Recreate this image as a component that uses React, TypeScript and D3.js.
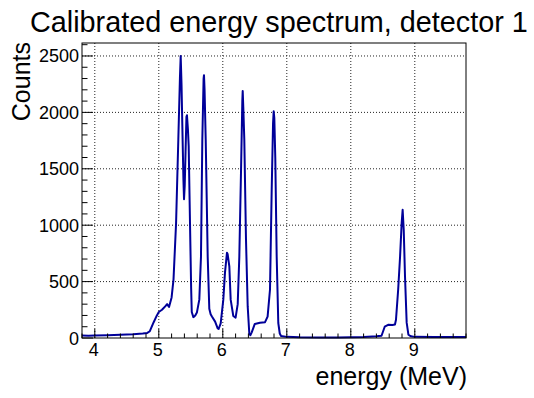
import React from "react";
import * as d3 from "d3";

const title = "Calibrated energy spectrum, detector 1";
const xTitle = "energy (MeV)";
const yTitle = "Counts";

const energy = [
  3.80, 3.90, 4.00, 4.20, 4.40, 4.60, 4.75, 4.82, 4.86, 4.92, 4.97, 5.00, 5.05, 5.10, 5.13, 5.16, 5.20, 5.23,
  5.27, 5.305, 5.33, 5.342, 5.355, 5.367, 5.385, 5.394, 5.405, 5.418, 5.432, 5.44, 5.455, 5.467, 5.4875,
  5.505, 5.515, 5.54, 5.57, 5.595, 5.633, 5.659, 5.68, 5.70, 5.706, 5.715, 5.733, 5.764, 5.789, 5.81,
  5.83, 5.88, 5.92, 5.935, 5.967, 6.008, 6.034, 6.065, 6.075, 6.102, 6.123, 6.164, 6.20, 6.233, 6.258,
  6.284, 6.305, 6.311, 6.32, 6.336, 6.3625, 6.389, 6.414, 6.43, 6.452, 6.50, 6.58, 6.66, 6.70, 6.7375,
  6.764, 6.785, 6.795, 6.805, 6.82, 6.842, 6.867, 6.89, 6.91, 7.00, 7.20, 7.50, 7.80, 8.00, 8.20, 8.40,
  8.48, 8.53, 8.59, 8.65, 8.69, 8.706, 8.74, 8.77, 8.795, 8.81, 8.827, 8.847, 8.873, 8.90, 8.94, 9.00,
  9.30, 9.60, 9.80,
];
const counts = [
  22, 20, 22, 25, 28, 33, 40, 45, 60, 140, 200, 230, 250, 280, 300, 275, 360, 520,
  1020, 1760, 2300, 2500, 2250, 1900, 1400, 1230, 1350, 1650, 1960, 1975, 1850, 1700, 1020,
  450, 230, 185, 200, 225, 340, 720, 1760, 2300, 2330, 2200, 1760, 720, 260, 210,
  190, 145, 85, 80, 130, 340, 580, 755, 745, 635, 340, 195, 180, 300, 720,
  1460, 2100, 2190, 2050, 1760, 870, 280, 40, 25, 50, 125, 135, 140, 190, 430,
  1315, 1900, 2010, 1950, 1600, 720, 133, 40, 18, 10, 6, 5, 5, 7, 8, 15,
  20, 100, 118, 115, 120, 162, 428, 723, 1022, 1137, 960, 546, 136, 29, 15, 10,
  8, 8, 8,
];

const xMajor = [4, 5, 6, 7, 8, 9];
const yMajor = [0, 500, 1000, 1500, 2000, 2500];

const W = 534;
const H = 398;
const L = 82, R = 466, T = 43, B = 338;
const FONT = "'Liberation Sans', Arial, Helvetica, sans-serif";

export default function App() {
  const x = d3.scaleLinear().domain([3.8, 9.8]).range([L, R]);
  const y = d3.scaleLinear().domain([0, 2615]).range([B, T]);

  const xMinor = d3.range(3.8, 9.81, 0.2).map((v) => +v.toFixed(2)).filter((v) => !xMajor.includes(v));
  const yMinor = d3.range(0, 2615, 100).filter((v) => !yMajor.includes(v));

  const pts = energy.map((e, i) => [e, counts[i]] as [number, number]);
  const line = d3.line<[number, number]>().x((d) => x(d[0])).y((d) => y(d[1]));

  return (
    <svg width={W} height={H} style={{ position: "absolute", left: 0, top: 0 }} fontFamily={FONT}>
      <rect x={0} y={0} width={W} height={H} fill="#fff" />
      {/* grid */}
      {xMajor.map((v) => (
        <line key={"gx" + v} x1={x(v)} x2={x(v)} y1={T} y2={B} stroke="#222" strokeWidth={1} strokeDasharray="1 2" />
      ))}
      {yMajor.filter((v) => v > 0).map((v) => (
        <line key={"gy" + v} x1={L} x2={R} y1={y(v)} y2={y(v)} stroke="#222" strokeWidth={1} strokeDasharray="1 2" />
      ))}
      {/* data */}
      <path d={line(pts) || ""} fill="none" stroke="#000099" strokeWidth={2} strokeLinejoin="round" />
      {/* frame */}
      <rect x={L} y={T} width={R - L} height={B - T} fill="none" stroke="#000" strokeWidth={1} />
      {/* x ticks */}
      {xMajor.map((v) => (
        <line key={"xt" + v} x1={x(v)} x2={x(v)} y1={B} y2={B - 9} stroke="#000" />
      ))}
      {xMinor.map((v) => (
        <line key={"xm" + v} x1={x(v)} x2={x(v)} y1={B} y2={B - 4.5} stroke="#000" />
      ))}
      {xMajor.map((v) => (
        <text key={"xl" + v} x={x(v) - 1} y={356} fontSize={18} textAnchor="middle" fill="#000">
          {v}
        </text>
      ))}
      {/* y ticks */}
      {yMajor.map((v) => (
        <line key={"yt" + v} x1={L} x2={L + 11} y1={y(v)} y2={y(v)} stroke="#000" />
      ))}
      {yMinor.map((v) => (
        <line key={"ym" + v} x1={L} x2={L + 5.5} y1={y(v)} y2={y(v)} stroke="#000" />
      ))}
      {yMajor.map((v) => (
        <text key={"yl" + v} x={79} y={y(v) + 6.5} fontSize={18} textAnchor="end" fill="#000">
          {v}
        </text>
      ))}
      {/* titles */}
      <text x={30} y={32} fontSize={28.8} fill="#000">
        {title}
      </text>
      <text x={R + 1} y={385} fontSize={25} textAnchor="end" fill="#000">
        {xTitle}
      </text>
      <text transform={`translate(30,42) rotate(-90)`} fontSize={25} textAnchor="end" fill="#000">
        {yTitle}
      </text>
    </svg>
  );
}
